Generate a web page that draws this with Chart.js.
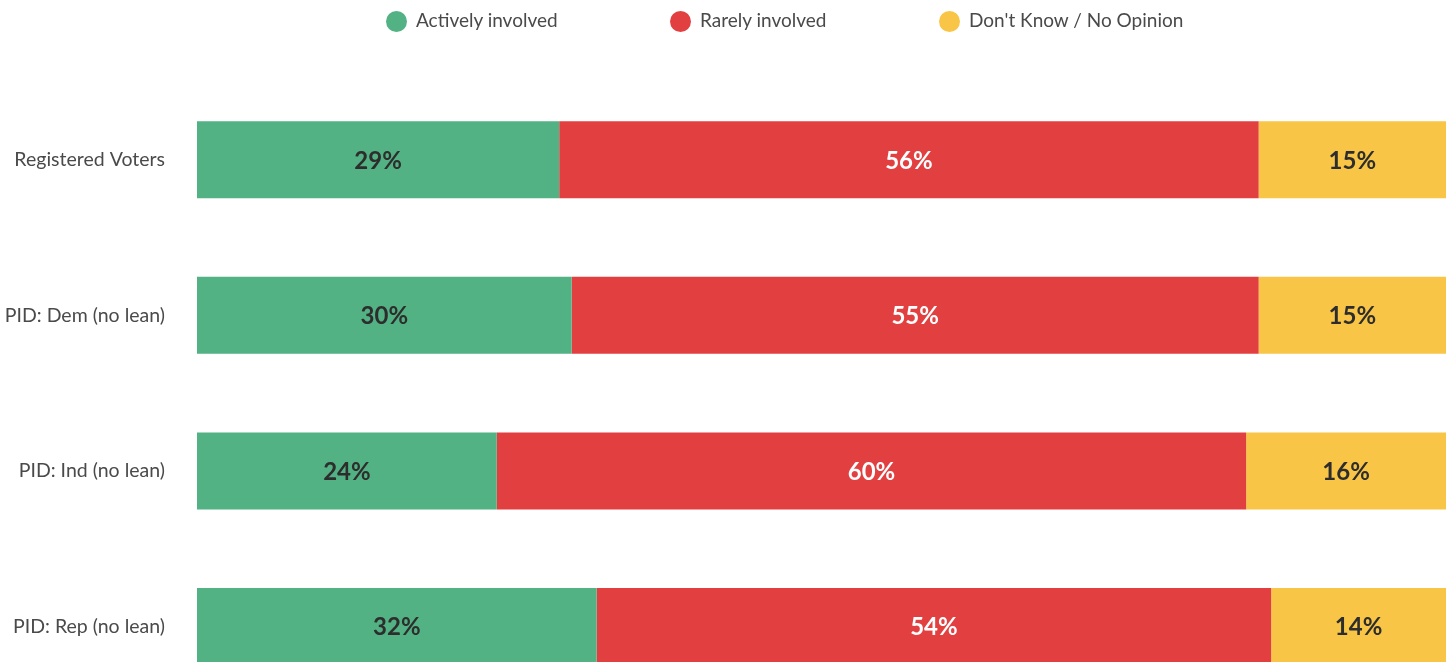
<!DOCTYPE html>
<html>
<head>
<meta charset="utf-8">
<script src="https://cdn.jsdelivr.net/npm/chart.js@4.4.1/dist/chart.umd.min.js"></script>
<style>
  html, body { margin: 0; padding: 0; background: #ffffff; overflow: hidden; width: 1446px; height: 662px; }
  #legend { position: absolute; top: 0; left: 0; width: 1446px; height: 40px; z-index: 2; font-family: Lato, "Open Sans", sans-serif; font-size: 19px; color: #4a4a4a; }
  .item { position: absolute; top: 10px; height: 20px; line-height: 20px; white-space: nowrap; }
  .dot { display: inline-block; width: 21px; height: 21px; border-radius: 50%; vertical-align: middle; margin-right: 9px; position: relative; top: -1px; }
  #c { position: absolute; top: 0; left: 0; }
</style>
</head>
<body>
<div id="legend"></div>
<canvas id="c" width="1446" height="740"></canvas>
<script>
const categories = ["Registered Voters", "PID: Dem (no lean)", "PID: Ind (no lean)", "PID: Rep (no lean)"];
const seriesNames = ["Actively involved", "Rarely involved", "Don't Know / No Opinion"];
const activelyInvolved = [29, 30, 24, 32];
const rarelyInvolved = [56, 55, 60, 54];
const dontKnow = [15, 15, 16, 14];

const colors = ["#52b283", "#e23f40", "#f8c546"];
const labelColors = ["#2d2d2d", "#ffffff", "#2d2d2d"];
const legendX = [386, 670, 939];

const legendEl = document.getElementById('legend');
seriesNames.forEach((n, i) => {
  const d = document.createElement('div');
  d.className = 'item';
  d.style.left = legendX[i] + 'px';
  d.innerHTML = '<span class="dot" style="background:' + colors[i] + '"></span>' + n.replace(/</g, '&lt;');
  legendEl.appendChild(d);
});

const valueLabels = {
  id: 'valueLabels',
  afterDatasetsDraw(chart) {
    const ctx = chart.ctx;
    ctx.save();
    ctx.font = 'bold 24px Lato, "Open Sans", sans-serif';
    ctx.textAlign = 'center';
    ctx.textBaseline = 'middle';
    chart.data.datasets.forEach((ds, di) => {
      const meta = chart.getDatasetMeta(di);
      meta.data.forEach((bar, i) => {
        const p = bar.getProps(['x', 'y', 'base'], true);
        const cx = (p.x + p.base) / 2;
        ctx.fillStyle = labelColors[di];
        ctx.fillText(ds.data[i] + '%', cx, p.y + 1);
      });
    });
    ctx.restore();
  }
};

new Chart(document.getElementById('c'), {
  type: 'bar',
  data: {
    labels: categories,
    datasets: [
      { label: seriesNames[0], data: activelyInvolved, backgroundColor: colors[0] },
      { label: seriesNames[1], data: rarelyInvolved, backgroundColor: colors[1] },
      { label: seriesNames[2], data: dontKnow, backgroundColor: colors[2] }
    ]
  },
  options: {
    indexAxis: 'y',
    responsive: false,
    maintainAspectRatio: false,
    animation: false,
    devicePixelRatio: 1,
    layout: { padding: { top: 82, right: 0, bottom: 0, left: 0 } },
    datasets: { bar: { barPercentage: 0.495, categoryPercentage: 1.0, borderWidth: 0 } },
    plugins: { legend: { display: false }, tooltip: { enabled: false } },
    scales: {
      x: { stacked: true, min: 0, max: 100, display: false },
      y: {
        stacked: true,
        grid: { display: false },
        border: { display: false },
        ticks: { padding: 24, color: '#4a4a4a', font: { family: 'Lato, "Open Sans", sans-serif', size: 19.5 } },
        afterFit(scale) { scale.width = 197; }
      }
    }
  },
  plugins: [valueLabels]
});
</script>
</body>
</html>
